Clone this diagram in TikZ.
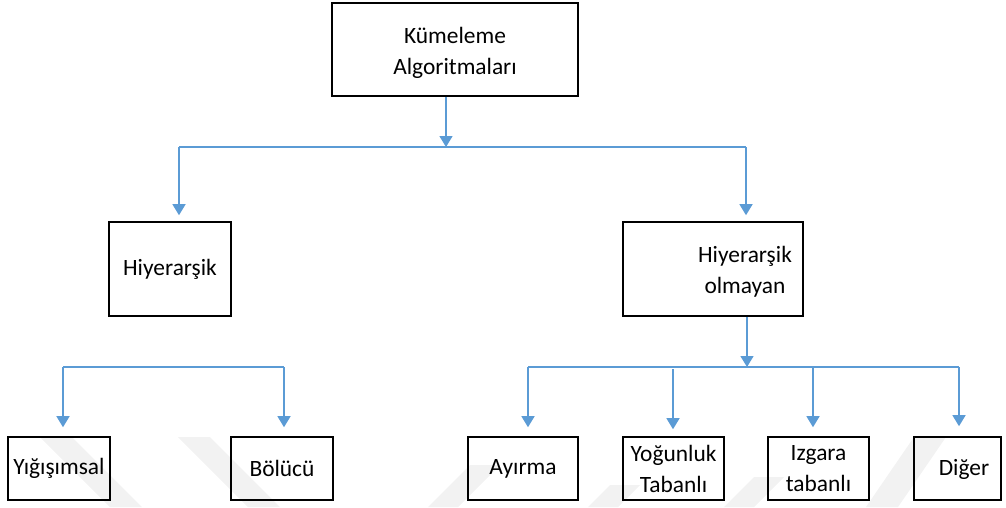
\documentclass[tikz,border=0pt]{standalone}
\usepackage{fontspec}
\setmainfont{Carlito}
\usetikzlibrary{arrows.meta}
\definecolor{linkblue}{HTML}{5B9BD5}
\definecolor{wmgray}{HTML}{F2F2F2}
\begin{document}
\begin{tikzpicture}[x=1pt,y=-1pt,
  box/.style={draw=black,line width=1.6pt,fill=none,inner sep=0pt,align=center,
    font=\fontsize{23.4}{31}\selectfont},
  lbl/.style={inner sep=0pt,align=center,font=\fontsize{23.4}{31}\selectfont},
  conn/.style={draw=linkblue,line width=1.4pt},
  arr/.style={conn,-{Triangle[width=13pt,length=11pt]}}]
\useasboundingbox (0,0) rectangle (1006,507);
\begin{scope}
\clip (0,0) rectangle (1006,507);
% faint background bands
\fill[wmgray] (40,437) -- (72,437) -- (142,507) -- (110,507) -- cycle;
\fill[wmgray] (178,437) -- (210,437) -- (280,507) -- (248,507) -- cycle;
\fill[wmgray] (428,507) -- (458,507) -- (500,465) -- (470,465) -- cycle;
\fill[wmgray] (588,507) -- (618,507) -- (640,485) -- (610,485) -- cycle;
\fill[wmgray] (724,507) -- (754,507) -- (784,477) -- (754,477) -- cycle;
\fill[wmgray] (866,507) -- (898,507) -- (946,437) -- (914,437) -- cycle;
\end{scope}

% boxes
\node[box,minimum width=246,minimum height=93] (top) at (455,49.5) {};
\node[lbl] (toptxt) at (455,53) {Kümeleme\\Algoritmaları};
\node[box,minimum width=122,minimum height=94] (hier) at (170,269) {Hiyerarşik};
\node[box,minimum width=180,minimum height=94] (nonhier) at (713,269) {};
\node[lbl] (nonhiertxt) at (745,272) {Hiyerarşik\\olmayan};

\node[box,minimum width=102,minimum height=63] (agg) at (59,468.5) {Yığışımsal};
\node[box,minimum width=102,minimum height=63] (div) at (282,468.5) {Bölücü};
\node[box,minimum width=110,minimum height=63] (part) at (523,468.5) {Ayırma};
\node[box,minimum width=101,minimum height=63] (dens) at (673.5,468.5) {Yoğunluk\\Tabanlı};
\node[box,minimum width=101,minimum height=63] (grid) at (818.5,468.5) {Izgara\\tabanlı};
\node[box,minimum width=87,minimum height=63] (other) at (957.5,468.5) {};
\node[lbl] (othertxt) at (964,469) {Diğer};

% junction points
\coordinate (jtop) at (446,147);
\coordinate (jl) at (179,147);
\coordinate (jr) at (746,147);
\coordinate (jbot) at (747,367);
\coordinate (la) at (63,367);
\coordinate (lb) at (284,367);
\coordinate (ra) at (528,367);
\coordinate (rb) at (673,369);
\coordinate (rc) at (813,367);
\coordinate (rd) at (959,367);

% first level
\draw[arr] (top.south -| jtop) -- (jtop);
\draw[conn] (jl) -- (jr);
\draw[arr,shorten >=6pt] (jl) -- (jl |- hier.north);
\draw[arr,shorten >=6pt] (jr) -- (jr |- nonhier.north);

% hierarchical branch
\draw[conn] (la) -- (lb);
\draw[arr,shorten >=9pt] (la) -- (la |- agg.north);
\draw[arr,shorten >=9pt] (lb) -- (lb |- div.north);

% non-hierarchical branch
\draw[arr] (nonhier.south -| jbot) -- (jbot);
\draw[conn] (ra) -- (rd);
\draw[arr,shorten >=9pt] (ra) -- (ra |- part.north);
\draw[arr,shorten >=7pt] (rb) -- (rb |- dens.north);
\draw[arr,shorten >=9pt] (rc) -- (rc |- grid.north);
\draw[arr,shorten >=10pt] (rd) -- (rd |- other.north);
\end{tikzpicture}
\end{document}
